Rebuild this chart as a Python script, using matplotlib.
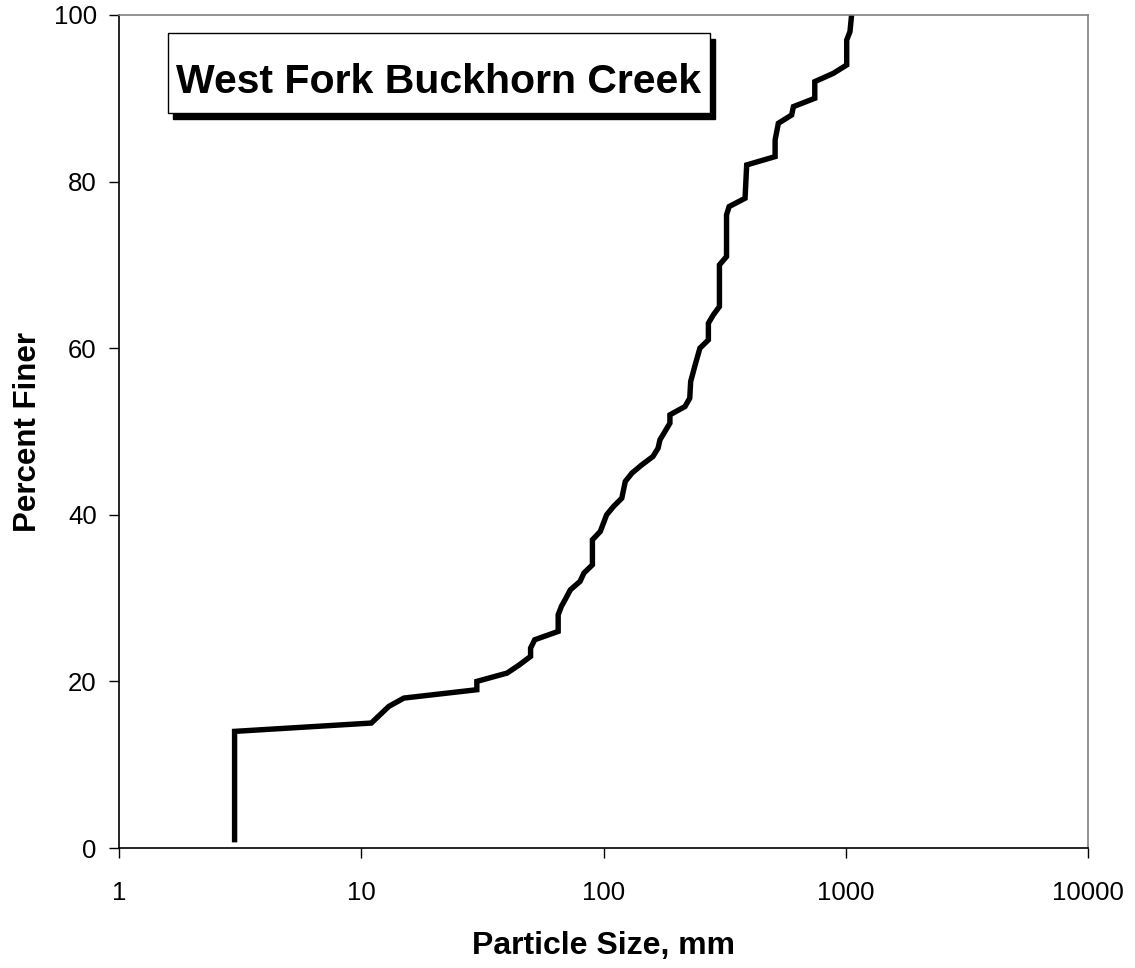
import matplotlib
matplotlib.use('Agg')
import matplotlib.pyplot as plt
from matplotlib.patches import Rectangle

plt.rcParams['font.family'] = ['Liberation Sans', 'DejaVu Sans']

# particle size (mm) vs percent finer
size = [3, 3, 11, 13, 15, 30, 30, 40, 45, 50, 50, 52, 65, 65, 67, 70, 73, 80, 83,
        90, 90, 97, 103, 110, 119, 123, 131, 144, 160, 168, 171, 188, 188, 217,
        227, 229, 239, 250, 271, 271, 284, 301, 301, 322, 322, 330, 384, 390,
        511, 511, 527, 598, 608, 745, 745, 889, 1009, 1009, 1041, 1057]
finer = [1, 14, 15, 17, 18, 19, 20, 21, 22, 23, 24, 25, 26, 28, 29, 30, 31, 32, 33,
         34, 37, 38, 40, 41, 42, 44, 45, 46, 47, 48, 49, 51, 52, 53,
         54, 56, 58, 60, 61, 63, 64, 65, 70, 71, 76, 77, 78, 82,
         83, 85, 87, 88, 89, 90, 92, 93, 94, 97, 98, 100]

xticks = [1, 10, 100, 1000, 10000]
xtick_labels = ['1', '10', '100', '1000', '10000']
yticks = [0, 20, 40, 60, 80, 100]
title = 'West Fork Buckhorn Creek'

fig = plt.figure(figsize=(11.35, 9.68), dpi=100)
ax = fig.add_axes([119/1135, 120/968, 969/1135, 833/968])

ax.plot(size, finer, color='black', lw=3.9, solid_joinstyle='miter')

ax.set_xscale('log')
ax.set_xlim(1, 10000)
ax.set_ylim(0, 100)
ax.set_xticks(xticks)
ax.set_xticklabels(xtick_labels)
ax.minorticks_off()
ax.set_yticks(yticks)
ax.tick_params(axis='both', direction='out', length=7, width=1, labelsize=18.5)
ax.tick_params(axis='y', pad=9)
ax.tick_params(axis='x', pad=17)

for s in ['top', 'right']:
    ax.spines[s].set_color('#808080')
for s in ['left', 'bottom']:
    ax.spines[s].set_color('black')
for s in ax.spines.values():
    s.set_linewidth(1.2)

ax.set_xlabel('Particle Size, mm', fontsize=23, fontweight='bold')
ax.set_ylabel('Percent Finer', fontsize=22.5, fontweight='bold')
ax.xaxis.set_label_coords(0.5, -0.1)
ax.yaxis.set_label_coords(-0.078, 0.5)

# title box with drop shadow
x0, x1 = 49/969, 591/969
y0, y1 = 735/833, 815/833
dx, dy = 5/969, 6/833
ax.add_patch(Rectangle((x0 + dx, y0 - dy), x1 - x0, y1 - y0, transform=ax.transAxes,
                       facecolor='black', edgecolor='black', zorder=5))
ax.add_patch(Rectangle((x0, y0), x1 - x0, y1 - y0, transform=ax.transAxes,
                       facecolor='white', edgecolor='black', lw=1, zorder=6))
ax.text((x0 + x1) / 2, 0.9064, title, transform=ax.transAxes, ha='center',
        va='baseline', fontsize=29.5, fontweight='bold', zorder=7)

fig.savefig('out.png', dpi=100)
